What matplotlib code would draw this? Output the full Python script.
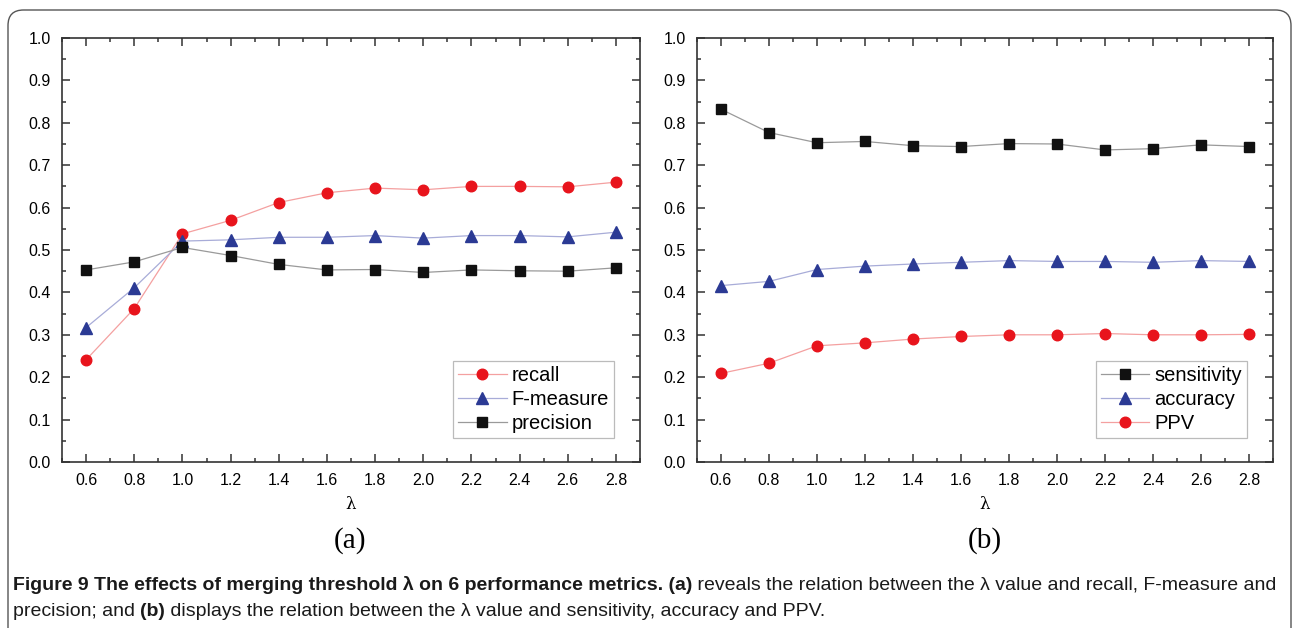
#two panel line chart: effect of merging threshold lambda on 6 metrics
import matplotlib
matplotlib.use('Agg')
import matplotlib.pyplot as plt
from matplotlib.patches import FancyBboxPatch
from matplotlib.ticker import MultipleLocator

#lambda values on the x axis
lam = [0.6, 0.8, 1.0, 1.2, 1.4, 1.6, 1.8, 2.0, 2.2, 2.4, 2.6, 2.8]

#panel (a)
recall = [0.241, 0.362, 0.538, 0.570, 0.612, 0.635, 0.646, 0.642, 0.650, 0.650, 0.649, 0.660]
fmeasure = [0.317, 0.411, 0.521, 0.524, 0.530, 0.530, 0.534, 0.528, 0.534, 0.534, 0.531, 0.542]
precision = [0.453, 0.472, 0.506, 0.487, 0.466, 0.453, 0.454, 0.447, 0.453, 0.451, 0.450, 0.458]

#panel (b)
sensitivity = [0.832, 0.777, 0.753, 0.756, 0.746, 0.744, 0.751, 0.750, 0.736, 0.739, 0.748, 0.744]
accuracy = [0.416, 0.426, 0.454, 0.462, 0.467, 0.471, 0.475, 0.473, 0.473, 0.471, 0.475, 0.473]
ppv = [0.209, 0.233, 0.274, 0.281, 0.290, 0.296, 0.300, 0.300, 0.303, 0.300, 0.300, 0.301]

tick_labels = ['0.6', '0.8', '1.0', '1.2', '1.4', '1.6', '1.8', '2.0', '2.2', '2.4', '2.6', '2.8']

plt.rcParams['font.family'] = ['Liberation Sans', 'DejaVu Sans']

W, H = 1293, 628
fig = plt.figure(figsize=(W / 100, H / 100), dpi=100)

#rounded frame around the whole figure (bottom edge runs off the page)
frame = FancyBboxPatch((8 / W, -0.3), 1283 / W, 1.3 - 10 / H, boxstyle='round,pad=0,rounding_size=0.012',
                       transform=fig.transFigure, fill=False, edgecolor='#555555', linewidth=1.0,
                       mutation_aspect=W / H)
fig.patches.append(frame)

red = '#e8141c'
red_line = '#f4a0a0'
blue = '#2b3a94'
blue_line = '#a8acd8'
black = '#111111'
gray_line = '#9a9a9a'


def style_axes(ax):
    #axis limits, ticks on all four sides pointing in
    ax.set_xlim(0.5, 2.9)
    ax.set_ylim(0.0, 1.0)
    ax.set_xticks(lam)
    ax.set_xticklabels(tick_labels)
    ax.xaxis.set_minor_locator(MultipleLocator(0.1))
    ax.yaxis.set_major_locator(MultipleLocator(0.1))
    ax.yaxis.set_minor_locator(MultipleLocator(0.05))
    ax.tick_params(which='both', direction='in', top=True, right=True, color='#333333', width=1.1)
    ax.tick_params(which='major', length=6, labelsize=11.5, pad=8)
    ax.tick_params(which='minor', length=3)
    for s in ax.spines.values():
        s.set_color('#333333')
        s.set_linewidth(1.2)
    ax.set_xlabel('λ', fontsize=12, family='DejaVu Serif', labelpad=6)


def add_legend(ax):
    leg = ax.legend(loc='lower right', bbox_to_anchor=(0.955, 0.057), borderaxespad=0, fontsize=14.5,
                    fancybox=False, edgecolor='#aaaaaa', handlelength=2.4, handletextpad=0.25,
                    labelspacing=0.25, borderpad=0.25)
    leg.get_frame().set_linewidth(0.9)


#left panel
ax1 = fig.add_axes([62 / W, 1 - 462 / H, 578 / W, 424 / H])
ax1.plot(lam, recall, color=red_line, lw=0.9, marker='o', ms=7.6, mfc=red, mec=red, label='recall')
ax1.plot(lam, fmeasure, color=blue_line, lw=0.9, marker='^', ms=8, mfc=blue, mec=blue, label='F-measure')
ax1.plot(lam, precision, color=gray_line, lw=0.9, marker='s', ms=6.8, mfc=black, mec=black, label='precision')
style_axes(ax1)
add_legend(ax1)

#right panel
ax2 = fig.add_axes([697 / W, 1 - 462 / H, 576 / W, 424 / H])
ax2.plot(lam, sensitivity, color=gray_line, lw=0.9, marker='s', ms=6.8, mfc=black, mec=black, label='sensitivity')
ax2.plot(lam, accuracy, color=blue_line, lw=0.9, marker='^', ms=8, mfc=blue, mec=blue, label='accuracy')
ax2.plot(lam, ppv, color=red_line, lw=0.9, marker='o', ms=7.6, mfc=red, mec=red, label='PPV')
style_axes(ax2)
add_legend(ax2)

#panel letters
fig.text(350 / W, 1 - 541 / H, '(a)', ha='center', va='center', fontsize=21, family='Liberation Serif')
fig.text(985 / W, 1 - 541 / H, '(b)', ha='center', va='center', fontsize=21, family='Liberation Serif')

#caption, pieces placed one after another
lines = [
    [('Figure 9 The effects of merging threshold λ on 6 performance metrics. (a)', 'bold'),
     (' reveals the relation between the λ value and recall, F-measure and', 'normal')],
    [('precision; and ', 'normal'), ('(b)', 'bold'),
     (' displays the relation between the λ value and sensitivity, accuracy and PPV.', 'normal')],
]
fig.canvas.draw()
renderer = fig.canvas.get_renderer()
y_px = [585, 611]
for line, yp in zip(lines, y_px):
    x_px = 13
    for txt, wt in line:
        t = fig.text(x_px / W, 1 - yp / H, txt, ha='left', va='center', fontsize=14.0,
                     family=['Liberation Sans', 'DejaVu Sans'], weight=wt, color='#1a1a1a')
        bb = t.get_window_extent(renderer)
        x_px += bb.width

fig.savefig('out.png', dpi=100)
